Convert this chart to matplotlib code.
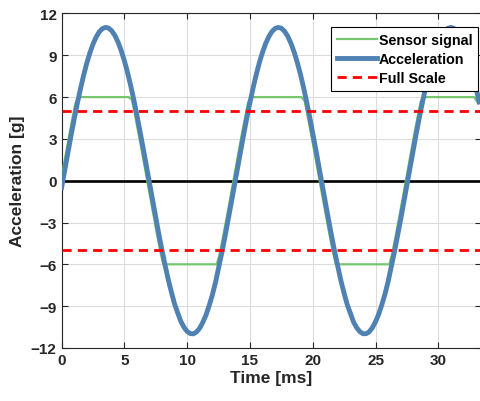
import numpy as np
import matplotlib
matplotlib.use("Agg")
import matplotlib.pyplot as plt

# --- data (every 0.25 ms) ---
time_ms = np.arange(0, 33.5, 0.25)
acceleration_g = [
    -0.50, 0.75, 2.00, 3.22, 4.40, 5.53, 6.57, 7.54, 8.41, 9.16,
    9.80, 10.30, 10.68, 10.91, 11.00, 10.95, 10.75, 10.41, 9.94, 9.33,
    8.61, 7.78, 6.83, 5.82, 4.70, 3.53, 2.32, 1.08, -0.17, -1.43,
    -2.66, -3.86, -5.01, -6.09, -7.11, -8.01, -8.85, -9.49, -10.10, -10.52,
    -10.82, -10.97, -10.99, -10.85, -10.58, -10.16, -9.64, -8.97, -8.22, -7.33,
    -6.29, -5.22, -4.08, -2.89, -1.66, -0.41, 0.85, 2.10, 3.32, 4.49,
    5.61, 6.65, 7.61, 8.47, 9.21, 9.84, 10.33, 10.70, 10.92, 11.00,
    10.94, 10.73, 10.38, 9.90, 9.28, 8.55, 7.72, 6.76, 5.73, 4.61,
    3.43, 2.22, 0.99, -0.27, -1.52, -2.75, -3.95, -5.10, -6.17, -7.19,
    -8.08, -8.90, -9.53, -10.14, -10.55, -10.83, -10.98, -10.98, -10.84, -10.55,
    -10.12, -9.59, -8.91, -8.15, -7.25, -6.21, -5.14, -3.99, -2.80, -1.56,
    -0.31, 0.95, 2.19, 3.41, 4.58, 5.69, 6.73, 7.68, 8.53, 9.26,
    9.88, 10.37, 10.72, 10.93, 11.00, 10.93, 10.71, 10.35, 9.86, 9.23,
    8.49, 7.65, 6.68, 5.65,
]
sensor_range_g = 6          # sensor saturates here
sensor_lead_ms = 0.15       # sensor trace sits slightly ahead of the true signal
full_scale_g = 5

x_ticks = [0, 5, 10, 15, 20, 25, 30]
y_ticks = [-12, -9, -6, -3, 0, 3, 6, 9, 12]

sensor_g = np.clip(acceleration_g, -sensor_range_g, sensor_range_g)

plt.rcParams['font.family'] = ['Liberation Sans', 'DejaVu Sans']
plt.rcParams['font.weight'] = 'bold'

fig = plt.figure(figsize=(4.81, 4.02), dpi=100)
ax = fig.add_axes([0.128, 0.132, 0.872, 0.832])

ax.plot(time_ms - sensor_lead_ms, sensor_g, color="#77c66e", lw=1.6,
        label="Sensor signal", zorder=3)
ax.plot(time_ms, acceleration_g, color="#4f81b3", lw=3.5,
        label="Acceleration", zorder=4)
ax.axhline(full_scale_g, color="#ff0000", lw=2.0, dashes=(3.3, 2.2),
           label="Full Scale", zorder=5)
ax.axhline(-full_scale_g, color="#ff0000", lw=2.0, dashes=(3.3, 2.2), zorder=5)
ax.axhline(0, color="black", lw=1.9, zorder=2)

ax.set_xlim(0, 33.4)
ax.set_ylim(-12, 12)
ax.set_xticks(x_ticks)
ax.set_yticks(y_ticks)
ax.grid(True, color="#dcdcdc", lw=0.8)
ax.set_axisbelow(True)
ax.tick_params(direction="in", top=True, right=True, labelsize=11,
               colors="#262626", length=4, width=0.8)
for s in ax.spines.values():
    s.set_color("#262626")
    s.set_linewidth(0.8)

ax.set_xlabel("Time [ms]", fontsize=12.5, fontweight="bold", color="#262626",
              labelpad=2)
ax.set_ylabel("Acceleration [g]", fontsize=12.5, fontweight="bold",
              color="#262626", labelpad=4)

leg = ax.legend(loc="upper right", bbox_to_anchor=(0.993, 0.96), fontsize=10.3,
                handlelength=2.8, handletextpad=0.15, borderpad=0.4,
                labelspacing=0.38, borderaxespad=0, fancybox=False,
                framealpha=1)
leg.get_frame().set_edgecolor("black")
leg.get_frame().set_linewidth(0.8)
for t in leg.get_texts():
    t.set_fontweight("bold")

fig.savefig("out.png", dpi=100)
